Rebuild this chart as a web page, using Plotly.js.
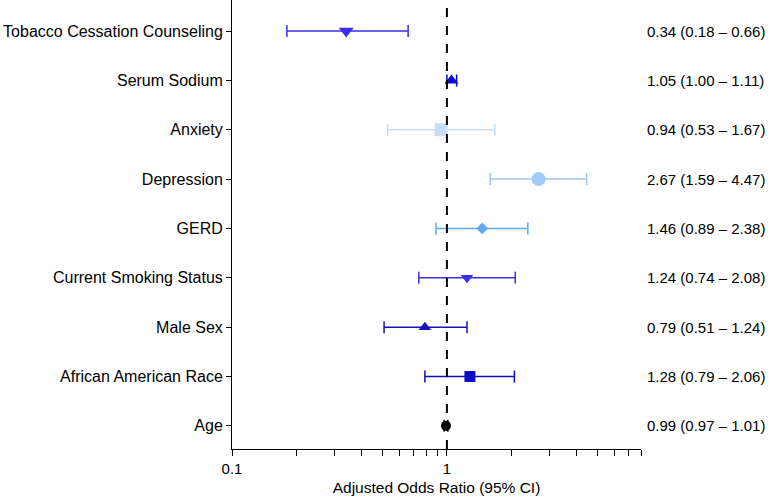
<!DOCTYPE html>
<html>
<head>
<meta charset="utf-8">
<script src="https://cdn.plot.ly/plotly-3.0.1.min.js"></script>
<style>html,body{margin:0;padding:0;background:#fff;}#chart{width:774px;height:500px;}</style>
</head>
<body>
<div id="chart"></div>
<script>
// Data (top to bottom order)
const labels = ["Tobacco Cessation Counseling","Serum Sodium","Anxiety","Depression","GERD","Current Smoking Status","Male Sex","African American Race","Age"];
const oddsRatio = [0.34, 1.05, 0.94, 2.67, 1.46, 1.24, 0.79, 1.28, 0.99];
const ciLow = [0.18, 1.00, 0.53, 1.59, 0.89, 0.74, 0.51, 0.79, 0.97];
const ciHigh = [0.66, 1.11, 1.67, 4.47, 2.38, 2.08, 1.24, 2.06, 1.01];
const ciText = ["0.34 (0.18 – 0.66)","1.05 (1.00 – 1.11)","0.94 (0.53 – 1.67)","2.67 (1.59 – 4.47)","1.46 (0.89 – 2.38)","1.24 (0.74 – 2.08)","0.79 (0.51 – 1.24)","1.28 (0.79 – 2.06)","0.99 (0.97 – 1.01)"];
const xTickVals = [0.1,0.2,0.3,0.4,0.5,0.6,0.7,0.8,0.9,1,2,3,4,5,6,7,8];
const xTickText = ["0.1","","","","","","","","","1","","","","","","",""];

const colors = ["#3a2ee6","#0a0ad0","#c6def8","#9ecaf5","#5fa8ee","#3a2ee6","#1a10c0","#0c0cc8","#000000"];
const symbols = ["triangle-down","triangle-up","square","circle","diamond","triangle-down","triangle-up","square","circle"];
const sizes = [13,12,13,14,9,11,11,11,10];

const n = labels.length;
const yPos = labels.map((_, i) => n - 1 - i);

const traces = labels.map((lab, i) => ({
  type: 'scatter',
  mode: 'markers',
  x: [oddsRatio[i]],
  y: [yPos[i]],
  name: lab,
  marker: {symbol: symbols[i], size: sizes[i], color: colors[i], line: {width: 0}},
  error_x: {
    type: 'data', symmetric: false,
    array: [ciHigh[i] - oddsRatio[i]],
    arrayminus: [oddsRatio[i] - ciLow[i]],
    color: colors[i], thickness: 1.5, width: 6
  },
  hoverinfo: 'skip',
  cliponaxis: false
}));

const annotations = labels.map((lab, i) => ({
  xref: 'paper', yref: 'y', x: 1, y: yPos[i], xanchor: 'left', xshift: 4,
  text: ciText[i], showarrow: false,
  font: {size: 15, color: '#000', family: 'Liberation Sans, Arial, sans-serif'}
}));

const layout = {
  width: 774, height: 500,
  margin: {l: 232, r: 133, t: 0, b: 51},
  paper_bgcolor: '#fff', plot_bgcolor: '#fff',
  showlegend: false,
  font: {family: 'Liberation Sans, Arial, sans-serif', size: 16, color: '#000'},
  xaxis: {
    type: 'log', range: [-1, Math.log10(8)],
    tickvals: xTickVals, ticktext: xTickText,
    ticks: 'outside', ticklen: 6, tickcolor: '#000', tickwidth: 1,
    tickfont: {size: 15},
    showline: true, linecolor: '#000', linewidth: 1,
    showgrid: false, zeroline: false,
    title: {text: 'Adjusted Odds Ratio (95% CI)', font: {size: 15.5}, standoff: 6}
  },
  yaxis: {
    range: [-0.47, 8.63],
    tickvals: yPos, ticktext: labels,
    ticks: 'outside', ticklen: 5, tickcolor: '#000',
    tickfont: {size: 16},
    showline: true, linecolor: '#000', linewidth: 1,
    showgrid: false, zeroline: false
  },
  shapes: [{
    type: 'line', xref: 'x', yref: 'paper', x0: 1, x1: 1, y0: 0, y1: 1,
    line: {color: '#000', width: 2, dash: 'dash'}, layer: 'above'
  }],
  annotations: annotations
};

Plotly.newPlot('chart', traces, layout, {displayModeBar: false, staticPlot: true});
</script>
</body>
</html>
